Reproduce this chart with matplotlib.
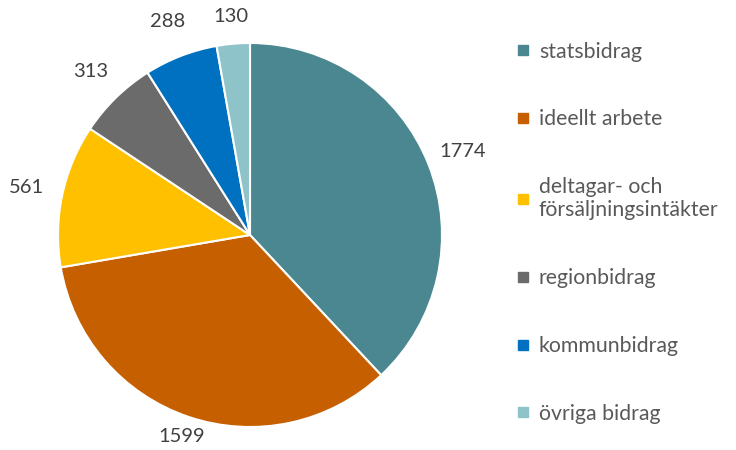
import numpy as np
import matplotlib.pyplot as plt
from matplotlib.lines import Line2D

plt.rcParams['font.family'] = ['Lato', 'DejaVu Sans']

categories = ["statsbidrag", "ideellt arbete", "deltagar- och\nförsäljningsintäkter",
              "regionbidrag", "kommunbidrag", "övriga bidrag"]
values = [1774, 1599, 561, 313, 288, 130]
colors = ["#4A8791", "#C65F00", "#FFC000", "#6B6B6B", "#0070C0", "#8EC3CA"]
# how far out each value label sits, in radii
label_dist = [1.19, 1.11, 1.19, 1.19, 1.19, 1.14]

text_color = "#404040"

fig = plt.figure(figsize=(7.36, 4.5), dpi=100)
W, H = 736, 450
cx, cy, r = 250, 235, 192
ax = fig.add_axes([(cx - r) / W, (H - cy - r) / H, 2 * r / W, 2 * r / H])

wedges, texts = ax.pie(values, colors=colors, startangle=90, counterclock=False,
                       labels=[str(v) for v in values], labeldistance=1.17,
                       wedgeprops=dict(edgecolor="white", linewidth=1.5),
                       textprops=dict(color=text_color, fontsize=14.5))
for w, t, d in zip(wedges, texts, label_dist):
    ang = np.deg2rad((w.theta1 + w.theta2) / 2)
    t.set_position((d * np.cos(ang), d * np.sin(ang)))
    t.set_horizontalalignment("center")
    t.set_verticalalignment("center")
ax.set_xlim(-1, 1)
ax.set_ylim(-1, 1)
ax.set_aspect("equal")

handles = [Line2D([], [], marker="s", linestyle="none", markersize=7,
                  markerfacecolor=c, markeredgecolor=c) for c in colors]
fig.legend(handles, categories, loc="upper left", bbox_to_anchor=(508 / W, 1 - 33 / H),
           frameon=False, fontsize=15.3, labelcolor="#595959", labelspacing=2.25,
           handlelength=0.6, handletextpad=0.45, borderaxespad=0)

fig.savefig("out.png", dpi=100)
